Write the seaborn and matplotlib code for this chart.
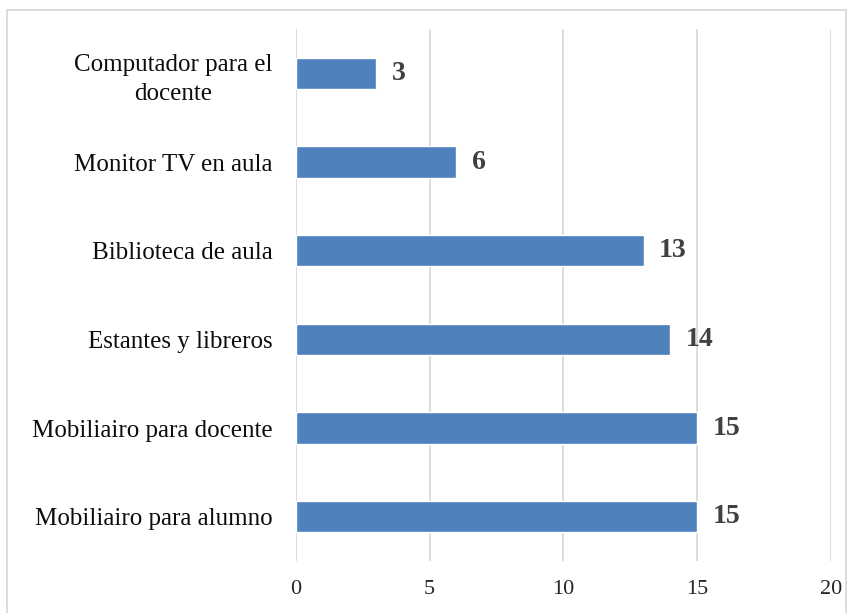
import pandas as pd
import seaborn as sns
import matplotlib.pyplot as plt
from matplotlib.patches import Rectangle

# categories (top to bottom) and counts
categories = [
    "Computador para el\ndocente",
    "Monitor TV en aula",
    "Biblioteca de aula",
    "Estantes y libreros",
    "Mobiliairo para docente",
    "Mobiliairo para alumno",
]
counts = [3, 6, 13, 14, 15, 15]
x_ticks = [0, 5, 10, 15, 20]

df = pd.DataFrame({"item": categories, "count": counts})

sns.set_theme(style="white")
plt.rcParams['font.family'] = ['Liberation Serif', 'DejaVu Serif']

fig = plt.figure(figsize=(8.5, 6.13), dpi=100)
ax = fig.add_axes([0.3482, 0.0848, 0.6294, 0.8679])

sns.barplot(data=df, x="count", y="item", color="#4f81bd", width=0.35,
            saturation=1, ax=ax)

ax.set_xlim(0, 20)
ax.set_xticks(x_ticks)
ax.xaxis.grid(True, color="#d9d9d9", linewidth=1.3)
ax.set_axisbelow(True)
for s in ax.spines.values():
    s.set_visible(False)
ax.set_xlabel("")
ax.set_ylabel("")
ax.tick_params(axis="x", labelsize=16, pad=14, length=0, labelcolor="#262626")
ax.tick_params(axis="y", labelsize=18, pad=17, length=0, labelcolor="#0d0d0d")
for lbl in ax.get_yticklabels():
    lbl.set_multialignment("center")
    lbl.set_linespacing(1.45)

labels = ax.bar_label(ax.containers[0], padding=11, fontsize=20, fontweight="bold",
                      color="#404040")

# light border around the whole chart
fig.patches.append(Rectangle((0.0082, -0.01), 0.987, 0.9937, transform=fig.transFigure,
                             fill=False, edgecolor="#d9d9d9", linewidth=1.3))

fig.savefig("out.png", dpi=100)
